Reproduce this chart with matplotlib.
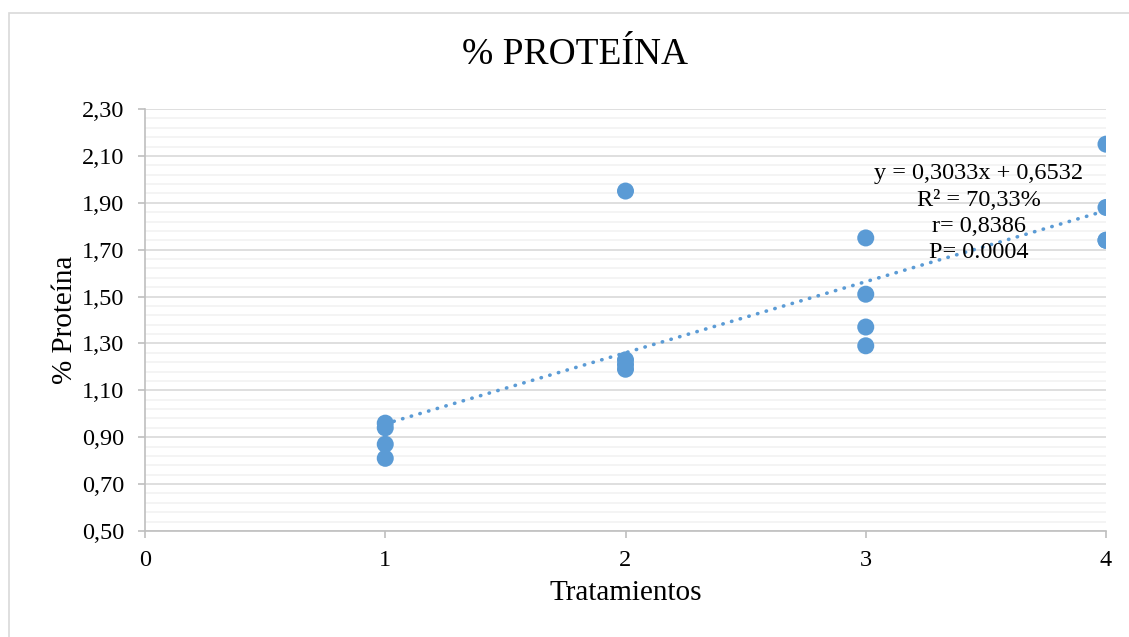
import numpy as np
import matplotlib
matplotlib.use("Agg")
import matplotlib.pyplot as plt
from matplotlib.ticker import FixedLocator, FuncFormatter
from matplotlib.patches import Rectangle

plt.rcParams['font.family'] = ['Liberation Serif', 'DejaVu Serif']

# Datos
tratamientos = [1, 1, 1, 1, 2, 2, 2, 2, 3, 3, 3, 3, 4, 4, 4, 4]
proteina = [0.96, 0.94, 0.87, 0.81,
            1.95, 1.23, 1.21, 1.19,
            1.75, 1.51, 1.37, 1.29,
            2.15, 1.88, 1.74, 1.74]
x_ticks = [0, 1, 2, 3, 4]
y_ticks = [0.5, 0.7, 0.9, 1.1, 1.3, 1.5, 1.7, 1.9, 2.1, 2.3]
ecuacion = "y = 0,3033x + 0,6532\nR² = 70,33%\nr= 0,8386\nP= 0.0004"

azul = '#5B9BD5'
gris_eje = '#BFBFBF'

fig = plt.figure(figsize=(11.29, 6.37), dpi=100)
ax = fig.add_axes([145 / 1129, 1 - 531 / 637, (1106 - 145) / 1129, (531 - 109) / 637])

# borde del area del grafico
fig.patches.append(Rectangle((9 / 1129, -0.1), 1.2, 1 - 13 / 637 + 0.1,
                             transform=fig.transFigure, fill=False,
                             edgecolor='#D9D9D9', linewidth=1.2))

ax.set_xlim(0, 4)
ax.set_ylim(0.5, 2.3)
ax.set_xticks(x_ticks)
ax.set_yticks(y_ticks)
ax.yaxis.set_minor_locator(FixedLocator(np.linspace(0.5, 2.3, 46)))
ax.yaxis.set_major_formatter(FuncFormatter(lambda v, p: f"{v:.2f}".replace('.', ',')))

ax.grid(True, which='major', axis='y', color='#D9D9D9', linewidth=1.2, zorder=0)
ax.grid(True, which='minor', axis='y', color='#F2F2F2', linewidth=1.2, zorder=0)
ax.set_axisbelow(True)

for s in ['top', 'right']:
    ax.spines[s].set_visible(False)
for s in ['left', 'bottom']:
    ax.spines[s].set_color(gris_eje)
    ax.spines[s].set_linewidth(1.2)

ax.tick_params(axis='both', which='major', colors=gris_eje, length=5, width=1.2,
               labelcolor='black', labelsize=17.5)
ax.tick_params(axis='y', which='minor', length=0)
ax.tick_params(axis='x', pad=9)
ax.tick_params(axis='y', pad=10)

# puntos
ax.scatter(tratamientos, proteina, s=150, color=azul, zorder=3, edgecolors='none')

# linea de tendencia
m, b = np.polyfit(tratamientos, proteina, 1)
xt = np.array([min(tratamientos), max(tratamientos)])
ax.plot(xt, m * xt + b, color=azul, linewidth=2.6, linestyle=(0, (0.1, 2.4)),
        dash_capstyle='round', zorder=2)

ax.text(3.47, 1.855, ecuacion, ha='center', va='center', fontsize=17.5,
        linespacing=1.33, zorder=4)

fig.text(575 / 1129, 1 - 55 / 637, "% PROTEÍNA", ha='center', va='center', fontsize=27)
ax.set_xlabel("Tratamientos", fontsize=21, labelpad=6)
ax.set_ylabel("% Proteína", fontsize=21, labelpad=3)

fig.savefig("out.png", dpi=100)
